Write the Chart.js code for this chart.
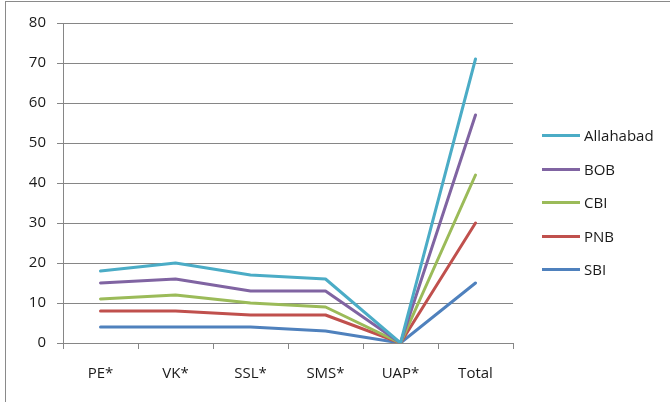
<!DOCTYPE html>
<html>
<head>
<meta charset="utf-8">
<script src="https://cdn.jsdelivr.net/npm/chart.js@4/dist/chart.umd.min.js"></script>
<style>
  html, body { margin: 0; padding: 0; background: #fff; }
  #wrap { position: relative; width: 670px; height: 402px; overflow: hidden; }
  #frame { position: absolute; left: 5px; top: 1px; width: 700px; height: 450px; border: 1.5px solid #8a8a8a; box-sizing: border-box; }
  #c { position: absolute; left: 0; top: 0; }
  #legend { position: absolute; left: 542px; top: 125px; font-family: 'Open Sans', sans-serif; font-size: 15px; color: #1a1a1a; }
  .item { height: 33.5px; display: flex; align-items: flex-start; }
  .swatch { width: 38px; height: 3px; margin-top: 9px; margin-right: 4px; }
</style>
</head>
<body>
<div id="wrap">
  <div id="frame"></div>
  <canvas id="c" width="670" height="402"></canvas>
  <div id="legend"></div>
</div>
<script>
  var categories = ['PE*', 'VK*', 'SSL*', 'SMS*', 'UAP*', 'Total'];
  var allahabad = [18, 20, 17, 16, 0, 71];
  var bob       = [15, 16, 13, 13, 0, 57];
  var cbi       = [11, 12, 10, 9, 0, 42];
  var pnb       = [8, 8, 7, 7, 0, 30];
  var sbi       = [4, 4, 4, 3, 0, 15];
  var yTicks    = [0, 10, 20, 30, 40, 50, 60, 70, 80];

  var series = [
    { label: 'Allahabad', data: allahabad, color: '#4BACC6' },
    { label: 'BOB',       data: bob,       color: '#8064A2' },
    { label: 'CBI',       data: cbi,       color: '#9BBB59' },
    { label: 'PNB',       data: pnb,       color: '#C0504D' },
    { label: 'SBI',       data: sbi,       color: '#4F81BD' }
  ];

  var axisGray = '#868686';
  var font = { family: "'Open Sans', sans-serif", size: 15 };

  var chart = new Chart(document.getElementById('c').getContext('2d'), {
    type: 'line',
    data: {
      labels: categories,
      datasets: series.map(function (s) {
        return { label: s.label, data: s.data, borderColor: s.color, backgroundColor: s.color,
                 borderWidth: 3, pointRadius: 0, tension: 0, borderCapStyle: 'round', borderJoinStyle: 'round' };
      })
    },
    options: {
      responsive: false, animation: false,
      layout: { padding: { top: 23, right: 157, left: 0, bottom: 0 } },
      plugins: { legend: { display: false }, tooltip: { enabled: false } },
      scales: {
        x: {
          offset: true,
          grid: { offset: true, drawOnChartArea: false, drawTicks: true, tickLength: 6, color: axisGray },
          border: { color: axisGray },
          ticks: { color: '#1a1a1a', font: font, padding: 16, maxRotation: 0 },
          afterFit: function (s) { s.height = 59; }
        },
        y: {
          min: 0, max: 80,
          afterBuildTicks: function (s) { s.ticks = yTicks.map(function (v) { return { value: v }; }); },
          grid: { color: axisGray, tickLength: 6 },
          border: { color: axisGray },
          ticks: { color: '#1a1a1a', font: font, padding: 11 },
          afterFit: function (s) { s.width = 63; }
        }
      }
    }
  });

  document.getElementById('legend').innerHTML = chart.data.datasets.map(function (d) {
    return '<div class="item"><span class="swatch" style="background:' + d.borderColor + '"></span>' + d.label + '</div>';
  }).join('');
</script>
</body>
</html>
